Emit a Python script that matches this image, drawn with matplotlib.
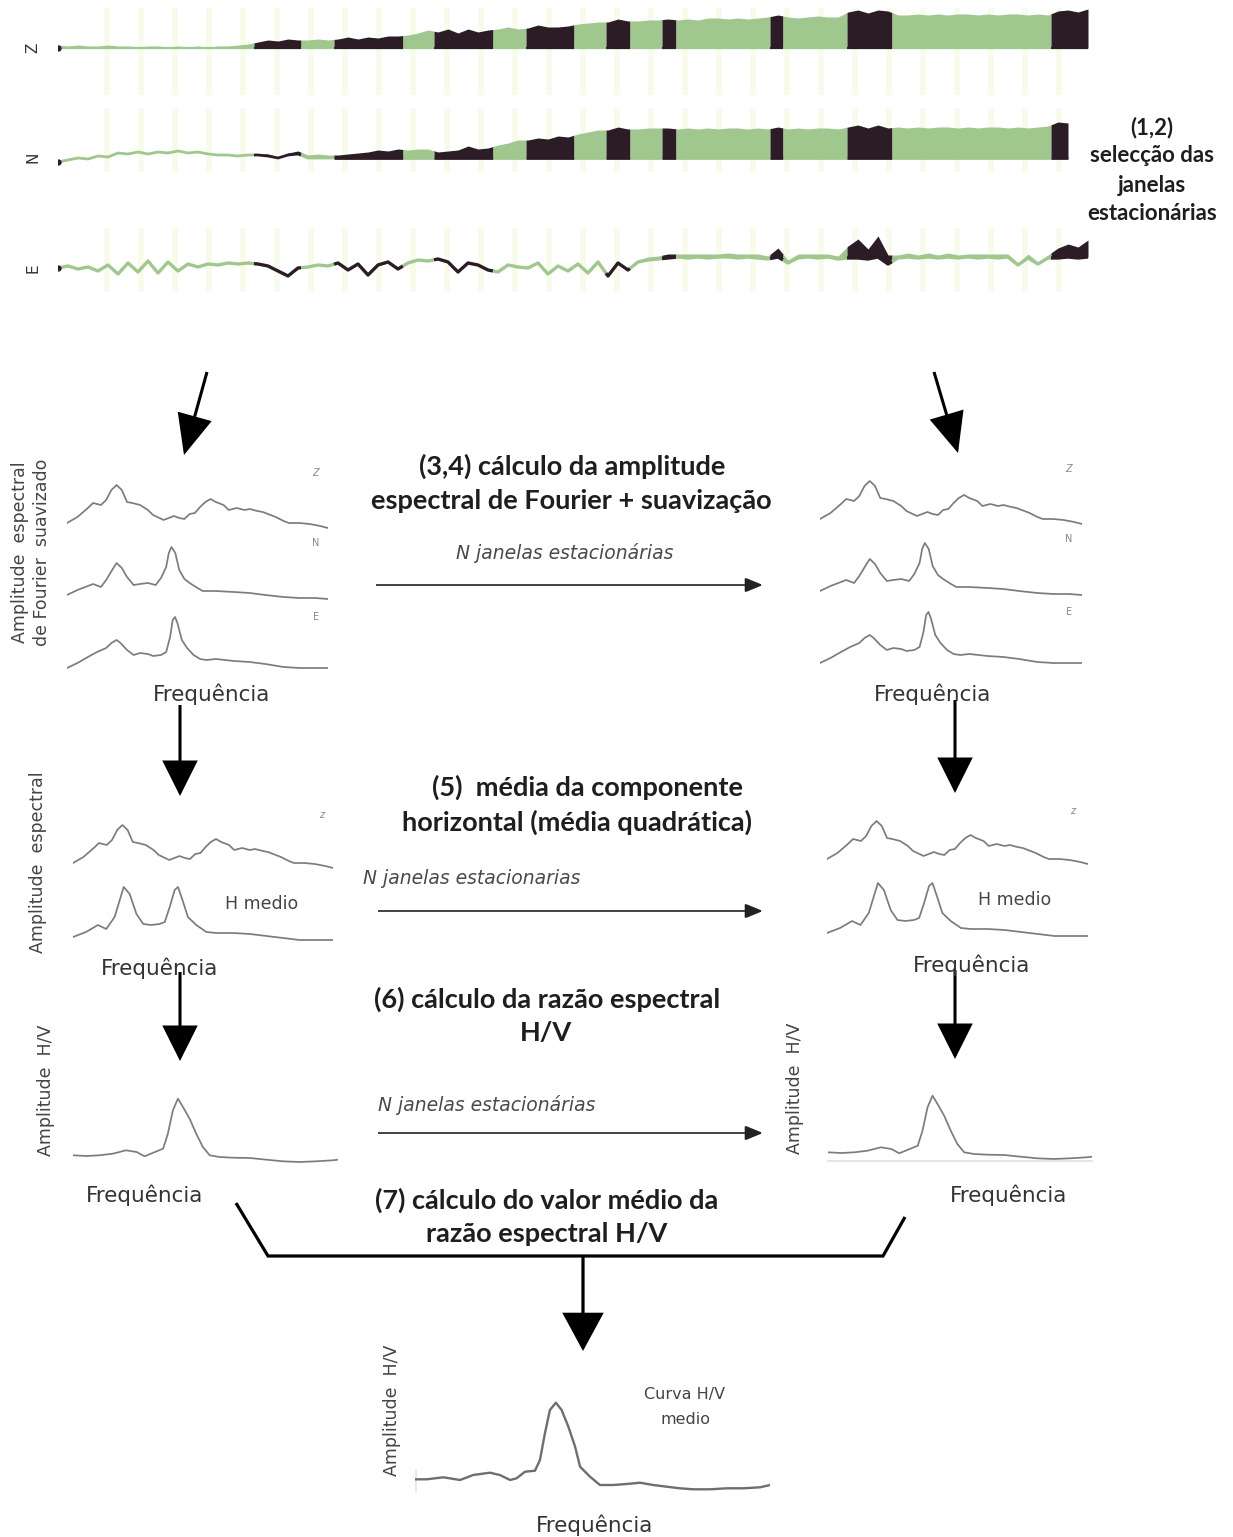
import numpy as np
import matplotlib
matplotlib.use("Agg")
import matplotlib.pyplot as plt
from matplotlib.patches import FancyArrowPatch

# ---------------------------------------------------------------------------
# Three-component ambient-noise record (Z, N, E), one sample every 10 s
# ---------------------------------------------------------------------------
TRACE_STEP = 10

# window edges (s) and state: 1 = selected stationary window (dark), 0 = rejected
window_edges = [0, 196, 243, 276, 345, 376, 435, 468, 516, 548, 572, 604, 618,
                712, 725, 789, 834, 993, 1030]
window_state_zn = [0, 1, 0, 1, 0, 1, 0, 1, 0, 1, 0, 1, 0, 1, 0, 1, 0, 1]
window_state_e = [0, 1, 0, 1, 0, 1, 0, 0, 0, 1, 0, 1, 0, 1, 0, 1, 0, 1]

# Z component: envelope height above the baseline
z_height = [3, 2, 3, 2, 2, 3, 2, 2, 1, 2, 2, 1, 2, 1, 2, 1, 2, 2, 3, 4,
            6, 8, 7, 9, 8,
            8, 9, 8,
            9, 11, 9, 11, 10, 12, 12,
            13, 15, 18,
            16, 19, 15, 19, 16, 18,
            19, 21, 19,
            20, 23, 21, 21, 22,
            24, 25, 26,
            26, 29, 27,
            27, 28, 28,
            29,
            28, 29, 28, 30, 30, 29, 30, 29, 30, 31,
            33,
            31, 30, 31, 32, 31, 31,
            36, 38, 35, 38, 37,
            33, 33, 34, 33, 34, 33, 34, 34, 33, 34, 33, 34, 34, 33, 34, 33,
            37, 38, 36, 39]

# N component: early wiggle of the trace, then envelope height
n_wiggle = [-4, -2, 0, -1, 2, 1, 5, 4, 6, 4, 6, 5, 7, 5, 6, 4, 3, 3, 2, 3,
            3, 2, 0, 3, 4]
n_height = [1, 1, 1, 1, 1, 1, 1, 1, 1, 1, 1, 1, 1, 1, 1, 1, 1, 1, 1, 1,
            1, 2, 1, 2, 3,
            3, 4, 3,
            3, 4, 5, 6, 8, 7, 9,
            8, 9, 9,
            6, 7, 8, 12, 9, 10,
            13, 15, 18,
            18, 20, 19, 22, 21,
            24, 26, 28,
            28, 31, 29,
            29, 30, 30,
            30,
            29, 30, 29, 30, 29, 30, 30, 29, 30, 29,
            31,
            29, 30, 29, 30, 30, 29,
            31, 33, 30, 33, 30,
            31, 30, 31, 30, 31, 31, 30, 31, 30, 31, 31, 30, 31, 30, 31, 32,
            36, 35]

# E component: trace centre line and, from 580 s on, envelope height
e_center = [0, 2, -1, 1, -3, 3, -6, 5, -4, 7, -5, 6, -3, 4, 1, 4, 3, 5, 4, 5,
            4, 2, -3, -8, 0,
            1, 3, 2,
            5, -2, 4, -7, 3, 6, -1,
            5, 8, 7,
            9, 6, -4, 5, 3, -2,
            -4, 3, 1,
            0, 5, -6, 2, -3,
            4, -5, 6,
            -8, 5, -2,
            6, 8, 9,
            10,
            11, 10, 11, 10, 11, 11, 10, 11, 10, 9,
            11,
            5, 10, 11, 10, 11, 9,
            10, 10, 9, 11, 4,
            10, 11, 10, 11, 10, 11, 10, 11, 10, 11, 10, 11, 3, 10, 4, 10,
            10, 11, 10, 11]
e_fill_start = 580
e_height = [2, 3, 3,
            4,
            3, 4, 3, 4, 3, 4, 4, 3, 4, 3,
            9,
            3, 4, 3, 4, 3, 3,
            12, 19, 10, 21, 9,
            3, 4, 3, 4, 3, 4, 3, 3, 4, 3, 4, 3, 2, 4, 2, 3,
            10, 13, 11, 17]

# ---------------------------------------------------------------------------
# Smoothed Fourier spectra (relative frequency 0-100, relative amplitude)
# ---------------------------------------------------------------------------
spec_z_f = [0, 4, 8, 10, 13, 15, 17, 19, 21, 23, 25, 28, 31, 33, 37, 39, 41, 43,
            45, 47, 49, 51, 53, 55, 57, 60, 62, 65, 68, 70, 73, 75, 78, 80, 83,
            85, 89, 93, 97, 100]
spec_z_a = [7, 13, 22, 27, 25, 30, 40, 45, 40, 28, 27, 25, 20, 15, 10, 12, 14, 12,
            11, 16, 17, 23, 28, 31, 28, 25, 20, 22, 20, 21, 19, 18, 15, 13, 9,
            7, 7, 6, 4, 2]

spec_n_f = [0, 4, 8, 10, 13, 15, 18, 19, 21, 23, 25.5, 28, 31, 34, 36, 38, 39, 40,
            41.5, 43, 45, 47, 50, 52, 57, 64, 70, 76, 83, 89, 95, 100]
spec_n_a = [5, 10, 14, 16, 13, 20, 33, 37, 32, 23, 15, 16, 17, 15, 22, 33, 47, 53,
            47, 30, 21, 17, 12, 9, 9, 8, 7, 5, 3, 2, 2, 1]

spec_e_f = [0, 4, 8, 11.5, 15, 17, 19, 20.5, 23, 25.5, 28, 31, 33, 36, 38, 39.5,
            40.5, 41.4, 42.3, 44, 46, 48.5, 51, 53.5, 57, 64, 70, 76, 83, 89, 95, 100]
spec_e_a = [2, 7, 13, 18, 22, 27, 30, 27, 20, 15, 17, 16, 14, 15, 18, 33,
            50, 53, 47, 30, 22, 15, 11, 10, 11, 9, 8, 6, 3, 2, 2, 2]

# quadratic mean of the horizontal components
spec_h_f = [0, 5, 9.6, 12.8, 16, 19.5, 21.8, 24.4, 27, 30, 33.3, 35.3, 37.2, 39.1,
            40.4, 42.1, 44.2, 47.4, 51.3, 55.1, 61.5, 68, 74.4, 80.8, 87.2, 93.6, 100]
spec_h_a = [5, 10, 17, 13, 25, 55, 48, 28, 18, 17, 18, 20, 35, 52,
            55, 42, 25, 17, 10, 9, 9, 8, 6, 4, 2, 2, 2]

# H/V spectral ratio of one window
hv_f = [0, 5, 10, 15, 20, 24, 27, 30, 34, 35.8, 37.7, 39.6, 41.5, 44, 46.5, 49,
        51.6, 55.3, 60.4, 66.7, 73, 79.2, 85.5, 91.8, 98, 100]
hv_a = [6.7, 6, 6.7, 8.3, 11.7, 10, 5.7, 9, 13.3, 28.3, 51.7, 63.3, 55, 43.3, 28.3,
        15, 6.7, 5, 4.3, 4, 2.3, 0.7, 0, 0.7, 1.7, 2.3]

# mean H/V curve over all windows
hv_mean_f = [0, 3.3, 8, 12.7, 16.4, 21.1, 23.9, 26.8, 28.6, 31, 33.8, 35.2, 36.6,
             38, 39.7, 41.3, 43.2, 45.1, 46.5, 49.3, 52.1, 55.9, 59.6, 63.4, 67.1,
             70.9, 74.6, 78.4, 83.1, 87.8, 92.5, 97.2, 100]
hv_mean_a = [10.7, 10.7, 12.7, 10, 15, 17.3, 15, 10, 11.7, 18.3, 19.3, 30, 56.7,
             80, 87.3, 80, 63.3, 43.3, 23.3, 13.3, 5, 5, 6, 7.3, 5, 3.3, 1.7,
             0.7, 0.7, 1.7, 1.7, 2.7, 5]

# ---------------------------------------------------------------------------
W, H = 1233, 1537
fig = plt.figure(figsize=(W / 100, H / 100), dpi=100)
fig.patch.set_facecolor("white")
canvas = fig.add_axes([0, 0, 1, 1])
canvas.set_xlim(0, W)
canvas.set_ylim(H, 0)
canvas.axis("off")

GREEN = "#a0c78e"
DARK = "#2b1c26"
CURVE = "#7c7c7c"
BOLD_FONT = ["Lato", "DejaVu Sans"]
PLAIN_FONT = ["DejaVu Sans"]


def px_axes(x0, y0, x1, y1):
    ax = fig.add_axes([x0 / W, 1 - y1 / H, (x1 - x0) / W, (y1 - y0) / H])
    ax.axis("off")
    ax.patch.set_alpha(0)
    return ax


# faint background stripes behind the records
for xs in np.arange(107, 1060, 34):
    for (ya, yb) in [(8, 95), (108, 172), (228, 292)]:
        canvas.plot([xs, xs], [ya, yb], color="#f8faea", lw=4, zorder=0,
                    solid_capstyle="butt")


def draw_trace(box, ylim, center, height, states, line_w):
    t = np.arange(len(center)) * TRACE_STEP
    ax = px_axes(*box)
    ax.set_xlim(0, box[2] - box[0])
    ax.set_ylim(*ylim)
    t_end = t[-1]
    for a, b, s in zip(window_edges[:-1], window_edges[1:], states):
        b = min(b, t_end)
        if b <= a:
            continue
        inside = (t > a) & (t < b)
        tw = np.concatenate([[a], t[inside], [b]])
        cw = np.interp(tw, t, center)
        hw = np.interp(tw, t, height)
        col = DARK if s else GREEN
        ax.fill_between(tw, cw, cw + hw, color=col, lw=0)
        ax.plot(tw, cw, color=col, lw=line_w, solid_capstyle="butt")
    ax.plot(t[0], center[0], "o", ms=3.5, color=DARK)
    return ax


z_arr = np.array(z_height, float)
draw_trace((58, 8, 1091, 60), (-12, 40), np.zeros_like(z_arr), z_arr,
           window_state_zn, 1.6)

n_arr = np.array(n_height, float)
n_ctr = np.zeros_like(n_arr)
n_ctr[:len(n_wiggle)] = n_wiggle
draw_trace((58, 112, 1091, 172), (-14, 46), n_ctr, n_arr, window_state_zn, 2.0)

e_ctr = np.array(e_center, float)
e_hgt = np.zeros_like(e_ctr)
k0 = e_fill_start // TRACE_STEP
e_hgt[k0:k0 + len(e_height)] = e_height
draw_trace((58, 228, 1091, 292), (-24, 40), e_ctr, e_hgt, window_state_e, 2.4)

for lab, y in [("Z", 48), ("N", 157), ("E", 268)]:
    canvas.text(33, y, lab, rotation=90, ha="center", va="center", fontsize=11,
                color="#333333", family=PLAIN_FONT)

# ---------------------------------------------------------------------------
def spectrum(f, a, x0, x1, ybase, color=CURVE, lw=1.25):
    ax = px_axes(x0, ybase - 100, x1, ybase + 6)
    ax.set_xlim(0, 100)
    ax.set_ylim(-6, 100)
    ax.plot(f, a, color=color, lw=lw, solid_joinstyle="round")
    return ax


# step 3-4 panels
for (x0, x1, bz, bn, be, lx) in [(67, 328, 530, 600, 670, 316),
                                  (820, 1082, 526, 596, 665, 1069)]:
    spectrum(spec_z_f, spec_z_a, x0, x1, bz)
    spectrum(spec_n_f, spec_n_a, x0, x1, bn)
    spectrum(spec_e_f, spec_e_a, x0, x1, be)
    for lab, y in [("Z", bz - 57), ("N", bn - 57), ("E", be - 53)]:
        canvas.text(lx, y, lab, ha="center", va="center", fontsize=7,
                    color="#8a8a8a", family=PLAIN_FONT,
                    style="italic" if lab == "Z" else "normal")

# step 5 panels
for (x0, x1, bz, bh, lx, hx) in [(73, 333, 870, 942, 322, 262),
                                 (827, 1088, 866, 938, 1073, 1015)]:
    spectrum(spec_z_f, spec_z_a, x0, x1, bz)
    spectrum(spec_h_f, spec_h_a, x0, x1, bh)
    canvas.text(lx, bz - 55, "z", ha="center", va="center", fontsize=7,
                color="#8a8a8a", family=PLAIN_FONT, style="italic")
    canvas.text(hx, bh - 38, "H medio", ha="center", va="center", fontsize=12.5,
                color="#444444", family=PLAIN_FONT)

# step 6 panels
spectrum(hv_f, hv_a, 73, 338, 1162)
spectrum(hv_f, hv_a, 828, 1092, 1159)
canvas.plot([828, 1092], [1161, 1161], color="#e0e0e0", lw=1.2)

# step 7 panel
spectrum(hv_mean_f, hv_mean_a, 415, 770, 1490, color="#6e6e6e", lw=1.7)
canvas.plot([416, 416], [1470, 1492], color="#e4e4e4", lw=1.2)
canvas.text(685, 1394, "Curva H/V", ha="center", va="center", fontsize=11.5,
            color="#444444", family=PLAIN_FONT)
canvas.text(685, 1419, "medio", ha="center", va="center", fontsize=11.5,
            color="#444444", family=PLAIN_FONT)

# axis labels
freq_kw = dict(ha="center", va="center", fontsize=15.5, color="#333333",
               family=PLAIN_FONT)
for (x, y) in [(212, 694), (933, 694), (160, 968), (972, 965), (145, 1195),
               (1009, 1195), (595, 1525)]:
    canvas.text(x, y, "Frequência", **freq_kw)

ylab_kw = dict(ha="center", va="center", fontsize=12.5, color="#444444",
               family=PLAIN_FONT, rotation=90)
canvas.text(20, 552, "Amplitude  espectral", **ylab_kw)
canvas.text(42, 552, "de Fourier  suavizado", **ylab_kw)
canvas.text(38, 862, "Amplitude  espectral", **ylab_kw)
canvas.text(46, 1090, "Amplitude  H/V", **ylab_kw)
canvas.text(795, 1088, "Amplitude  H/V", **ylab_kw)
canvas.text(392, 1410, "Amplitude  H/V", **ylab_kw)

# ---------------------------------------------------------------------------
# step descriptions
head_kw = dict(ha="center", va="center", fontsize=19.5, fontweight="bold",
               color="#1e1e1e", family=BOLD_FONT)
canvas.text(572, 466, "(3,4) cálculo da amplitude", **head_kw)
canvas.text(571, 501, "espectral de Fourier + suavização", **head_kw)
canvas.text(587, 787, "(5)  média da componente", **head_kw)
canvas.text(577, 822, "horizontal (média quadrática)", **head_kw)
canvas.text(547, 999, "(6) cálculo da razão espectral", **head_kw)
canvas.text(546, 1033, "H/V", **head_kw)
canvas.text(547, 1200, "(7) cálculo do valor médio da", **head_kw)
canvas.text(547, 1234, "razão espectral H/V", **head_kw)

side_kw = dict(ha="center", va="center", fontsize=16, fontweight="bold",
               color="#1e1e1e", family=BOLD_FONT)
for txt, y in [("(1,2)", 128), ("selecção das", 156), ("janelas", 185),
               ("estacionárias", 214)]:
    canvas.text(1152, y, txt, **side_kw)

ital_kw = dict(va="center", fontsize=13.5, style="italic", color="#4a4a4a",
               family=PLAIN_FONT)
canvas.text(565, 553, "N janelas estacionárias", ha="center", **ital_kw)
canvas.text(363, 878, "N janelas estacionarias", ha="left", **ital_kw)
canvas.text(378, 1105, "N janelas estacionárias", ha="left", **ital_kw)


# ---------------------------------------------------------------------------
def arrow(p0, p1, lw, hl, hw, color="black"):
    canvas.add_patch(FancyArrowPatch(
        p0, p1, arrowstyle=f"-|>,head_length={hl},head_width={hw}",
        mutation_scale=1, lw=lw, color=color, shrinkA=0, shrinkB=0,
        joinstyle="miter", capstyle="butt"))


# flow between steps
arrow((207, 372), (184, 455), 2.2, 25, 11)
arrow((934, 372), (958, 453), 2.2, 25, 11)
arrow((180, 705), (180, 796), 2.2, 22, 11)
arrow((955, 700), (955, 793), 2.2, 22, 11)
arrow((180, 972), (180, 1061), 2.2, 22, 11)
arrow((955, 970), (955, 1059), 2.2, 22, 11)

# N windows
for y, x0 in [(585, 376), (911, 378), (1133, 378)]:
    arrow((x0, y), (763, y), 1.2, 11, 4.5, color="#222222")

# bracket gathering all windows
canvas.plot([236, 268, 883, 905], [1203, 1256, 1256, 1217], color="black",
            lw=2.3, solid_joinstyle="miter", solid_capstyle="butt")
arrow((583, 1256), (583, 1351), 2.3, 24, 13)

fig.savefig("out.png", dpi=100, facecolor="white")
